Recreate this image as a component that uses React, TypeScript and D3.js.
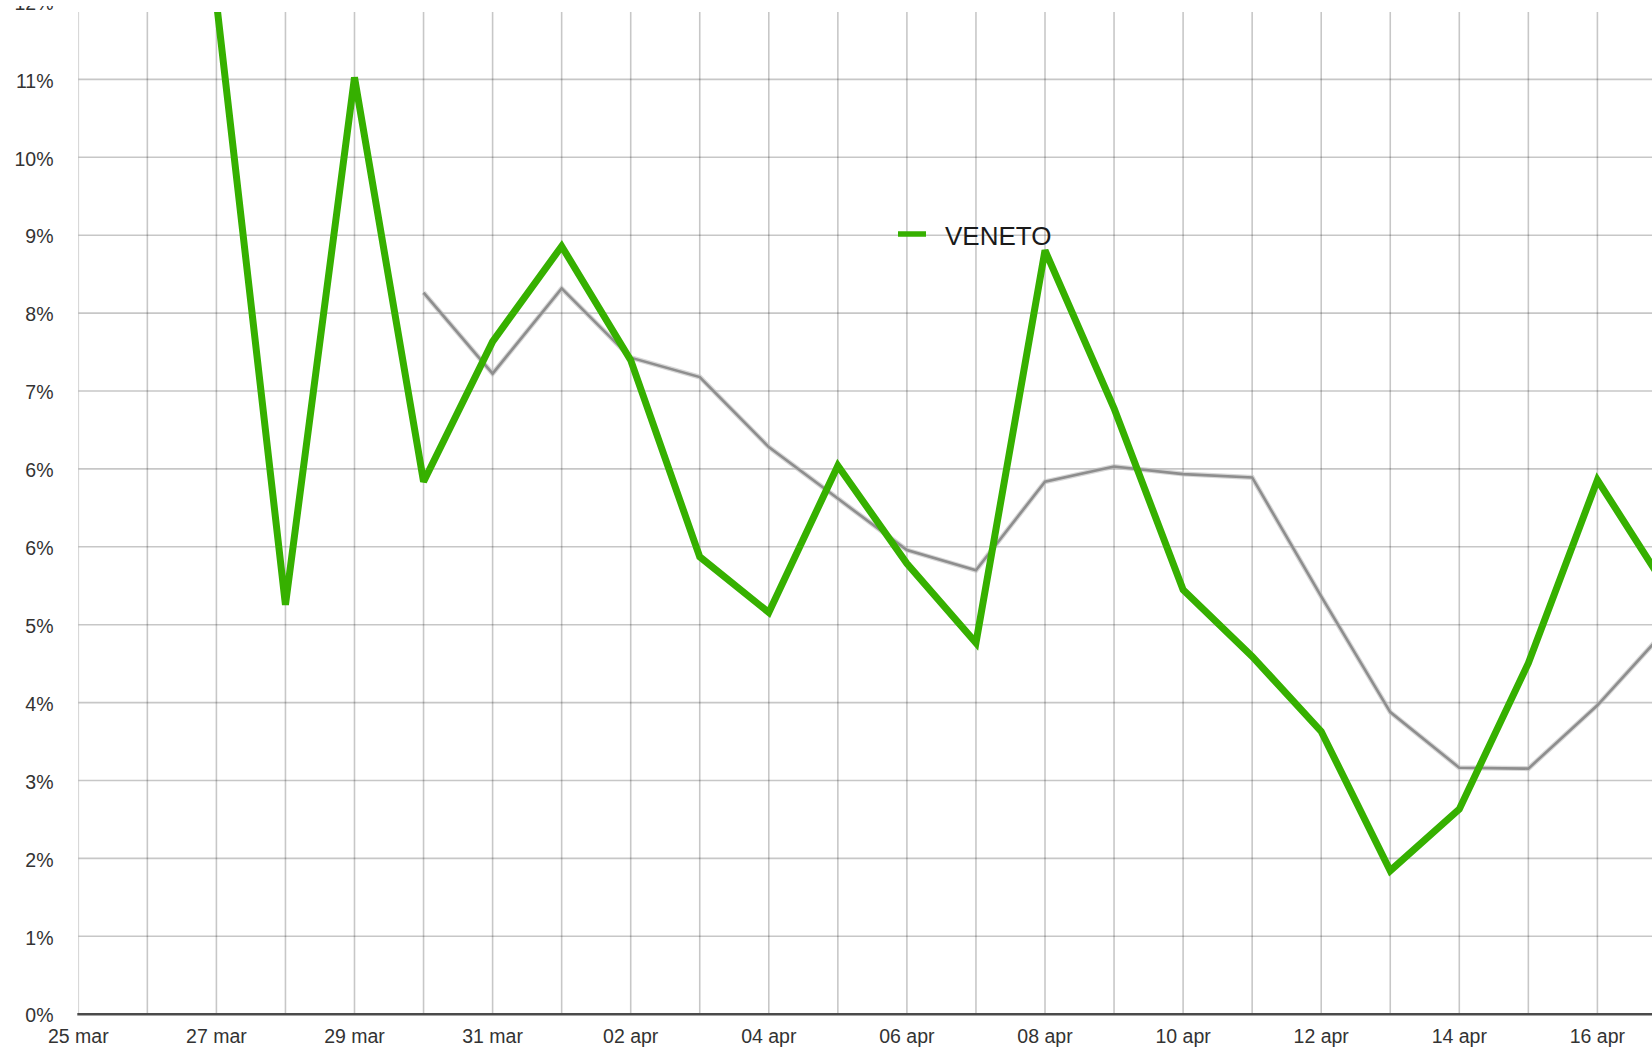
import * as d3 from "d3";

// daily series (fractions, 1 = 100%)
const dates = [
  "2020-03-27", "2020-03-28", "2020-03-29", "2020-03-30", "2020-03-31",
  "2020-04-01", "2020-04-02", "2020-04-03", "2020-04-04", "2020-04-05",
  "2020-04-06", "2020-04-07", "2020-04-08", "2020-04-09", "2020-04-10",
  "2020-04-11", "2020-04-12", "2020-04-13", "2020-04-14", "2020-04-15",
  "2020-04-16", "2020-04-17",
];

const veneto = [
  0.12, 0.0485, 0.111, 0.0631, 0.0797,
  0.091, 0.0775, 0.0542, 0.0476, 0.065,
  0.0534, 0.044, 0.0905, 0.0718, 0.0503,
  0.0424, 0.0335, 0.017, 0.0243, 0.0416,
  0.0633, 0.0505,
];

// grey moving-average line (starts on 30 mar)
const trend = [
  null, null, null, 0.0855, 0.0759,
  0.086, 0.0778, 0.0755, 0.0672, 0.0611,
  0.055, 0.0526, 0.0631, 0.0649, 0.064,
  0.0636, 0.0495, 0.0358, 0.0292, 0.0291,
  0.0366, 0.0456,
];

const yTickLabels = [
  "0%", "1%", "2%", "3%", "4%", "5%", "6%",
  "6%", "7%", "8%", "9%", "10%", "11%", "12%",
];

const xTickLabels = [
  "25 mar", "27 mar", "29 mar", "31 mar", "02 apr", "04 apr",
  "06 apr", "08 apr", "10 apr", "12 apr", "14 apr", "16 apr",
];

const legendLabel = "VENETO";

const W = 1652;
const H = 1050;
const left = 78.3;
const dayW = 69.05;
const bottom = 1014.2;
const plotTop = 12;
const yMax = 0.12;

const green = "#36b000";
const font = "'Liberation Sans', Arial, Helvetica, sans-serif";

const parse = d3.utcParse("%Y-%m-%d");

export default function App() {
  const start = parse("2020-03-25")!;
  const end = parse("2020-04-17")!;

  const x = d3
    .scaleUtc()
    .domain([start, end])
    .range([left, left + 23 * dayW]);

  const y = d3.scaleLinear().domain([0, yMax]).range([bottom, 1.5]);

  const days = d3.utcDay.range(start, d3.utcDay.offset(end, 1));
  const yTicks = yTickLabels.map((_, i) => (i * yMax) / (yTickLabels.length - 1));
  const xTicks = d3.utcDay.range(start, end, 2);

  type Pt = { d: Date; v: number | null };
  const line = d3
    .line<Pt>()
    .defined((p) => p.v != null)
    .x((p) => x(p.d))
    .y((p) => y(p.v as number));

  const greenPts: Pt[] = dates.map((s, i) => ({ d: parse(s)!, v: veneto[i] }));
  const greyPts: Pt[] = dates.map((s, i) => ({ d: parse(s)!, v: trend[i] }));

  return (
    <div style={{ position: "absolute", left: 0, top: 0 }}>
      <svg width={W} height={H} style={{ display: "block", background: "#fff" }}>
        <defs>
          <clipPath id="plot">
            <rect x={left} y={plotTop} width={W - left} height={bottom - plotTop + 4} />
          </clipPath>
          {/* the source picture is cropped just above the top tick */}
          <clipPath id="labels">
            <rect x={0} y={6} width={left} height={H} />
          </clipPath>
          <filter id="soft" x="-5%" y="-5%" width="110%" height="110%">
            <feGaussianBlur stdDeviation="0.6" />
          </filter>
        </defs>

        <g clipPath="url(#plot)">
          {/* grid */}
          {yTicks.slice(1).map((t, i) => (
            <line
              key={"h" + i}
              x1={left}
              x2={W}
              y1={y(t)}
              y2={y(t)}
              stroke="#000"
              strokeOpacity={0.22}
              strokeWidth={1.6}
            />
          ))}
          {days.map((d, i) => (
            <line
              key={"v" + i}
              x1={x(d)}
              x2={x(d)}
              y1={plotTop}
              y2={bottom}
              stroke="#000"
              strokeOpacity={0.22}
              strokeWidth={1.6}
            />
          ))}

          {/* grey trend with a soft halo */}
          <path
            d={line(greyPts) ?? ""}
            fill="none"
            stroke="#bdbdbd"
            strokeWidth={5}
            strokeOpacity={0.6}
            filter="url(#soft)"
          />
          <path d={line(greyPts) ?? ""} fill="none" stroke="#8e8e8e" strokeWidth={2.6} />

          <path
            d={line(greenPts) ?? ""}
            fill="none"
            stroke={green}
            strokeWidth={7}
            strokeLinejoin="miter"
            strokeMiterlimit={2.5}
          />
        </g>

        {/* baseline */}
        <line x1={left - 1} x2={W} y1={bottom} y2={bottom} stroke="#4a4a4a" strokeWidth={2.6} />

        {/* y labels */}
        <g clipPath="url(#labels)">
          {yTicks.map((t, i) => (
            <text
              key={"yl" + i}
              x={53.5}
              y={y(t) + 1.2}
              dy="0.36em"
              textAnchor="end"
              fontFamily={font}
              fontSize={19.5}
              fill="#333"
            >
              {yTickLabels[i]}
            </text>
          ))}
        </g>

        {/* x labels */}
        {xTicks.map((d, i) => (
          <text
            key={"xl" + i}
            x={x(d)}
            y={1043}
            textAnchor="middle"
            fontFamily={font}
            fontSize={19.5}
            fill="#333"
          >
            {xTickLabels[i]}
          </text>
        ))}

        {/* legend */}
        <line x1={898} x2={926} y1={234} y2={234} stroke={green} strokeWidth={5.5} />
        <text x={945} y={245} fontFamily={font} fontSize={26} fill="#1a1a1a">
          {legendLabel}
        </text>
      </svg>
    </div>
  );
}
